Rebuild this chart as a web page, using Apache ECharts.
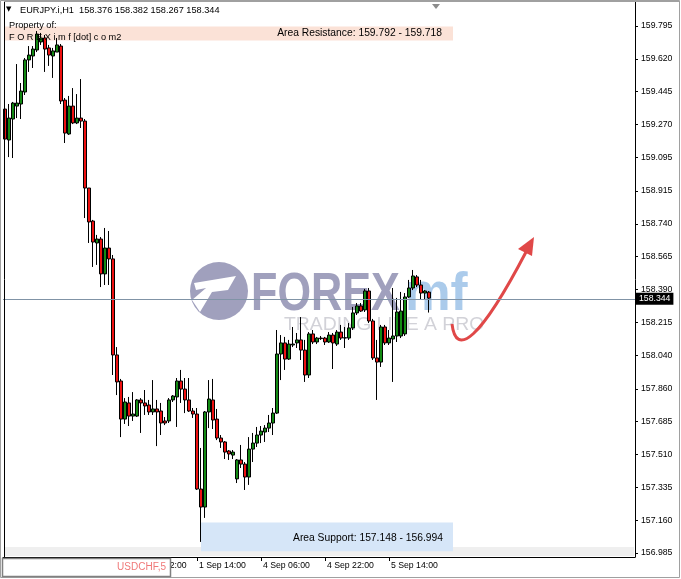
<!DOCTYPE html>
<html><head><meta charset="utf-8">
<script src="https://cdn.jsdelivr.net/npm/echarts@6/dist/echarts.min.js"></script>
<style>html,body{margin:0;padding:0;background:#fff}#c{width:681px;height:579px}</style>
</head><body><div id="c"></div>
<script>
// ---- data ----
const symbolTitle = 'EURJPY.i,H1';
const opens  = [159.352,159.187,159.299,159.368,159.379,159.443,159.614,159.635,159.667,159.710,
  159.731,159.678,159.635,159.656,159.688,159.400,159.219,159.368,159.278,159.304,
  159.288,158.931,158.755,158.638,158.659,158.473,158.611,158.553,158.041,157.902,
  157.699,157.785,157.715,157.715,157.801,157.785,157.774,157.737,157.753,157.742,
  157.689,157.689,157.801,157.817,157.902,157.859,157.801,157.742,157.726,157.326,
  157.230,157.737,157.801,157.699,157.598,157.577,157.529,157.507,157.380,157.481,
  157.459,157.390,157.539,157.571,157.614,157.630,157.651,157.678,157.731,158.046,
  158.105,158.019,158.094,158.105,158.121,158.067,157.934,158.153,158.110,158.131,
  158.131,158.110,158.147,158.099,158.163,158.131,158.131,158.185,158.265,158.302,
  158.281,158.382,158.222,158.025,158.003,158.190,158.105,158.126,158.142,158.142,
  158.153,158.350,158.398,158.457,158.414,158.371,158.376];
const highs  = [159.438,159.379,159.390,159.592,159.491,159.624,159.688,159.688,159.768,159.758,
  159.747,159.694,159.678,159.731,159.699,159.411,159.422,159.464,159.432,159.512,
  159.299,158.931,158.761,158.681,158.670,158.718,158.702,158.574,158.083,157.913,
  157.811,157.817,157.843,157.806,157.811,157.854,157.801,157.907,157.801,157.785,
  157.710,157.811,157.827,157.918,157.961,157.918,157.918,157.758,157.758,157.545,
  157.742,157.907,157.913,157.753,157.614,157.582,157.534,157.534,157.486,157.561,
  157.470,157.603,157.625,157.657,157.662,157.667,157.721,157.758,158.174,158.147,
  158.137,158.121,158.190,158.158,158.243,158.121,158.163,158.174,158.137,158.142,
  158.137,158.163,158.158,158.174,158.201,158.190,158.211,158.297,158.318,158.318,
  158.393,158.398,158.233,158.121,158.201,158.201,158.174,158.398,158.345,158.377,
  158.371,158.441,158.494,158.467,158.441,158.387,158.382];
const lows   = [159.190,159.096,159.091,159.304,159.299,159.427,159.550,159.571,159.656,159.694,
  159.550,159.582,159.518,159.656,159.379,159.171,159.214,159.272,159.272,159.251,
  158.771,158.638,158.510,158.521,158.403,158.414,158.414,157.934,157.827,157.603,
  157.673,157.662,157.689,157.710,157.625,157.721,157.721,157.721,157.555,157.614,
  157.667,157.678,157.790,157.657,157.785,157.731,157.737,157.705,157.321,157.044,
  157.172,157.651,157.646,157.587,157.545,157.486,157.481,157.486,157.358,157.438,
  157.321,157.348,157.470,157.550,157.571,157.577,157.630,157.614,157.726,157.907,
  157.961,158.014,158.083,158.078,158.014,157.897,157.918,158.099,158.099,158.121,
  158.094,158.105,157.966,158.089,158.121,158.078,158.121,158.174,158.254,158.270,
  158.270,158.211,158.014,157.801,157.977,158.094,158.094,157.897,158.110,158.131,
  158.142,158.345,158.387,158.403,158.334,158.334,158.267];
const closes = [159.192,159.304,159.384,159.384,159.448,159.614,159.640,159.672,159.752,159.731,
  159.672,159.640,159.662,159.694,159.395,159.224,159.368,159.278,159.304,159.288,
  158.931,158.750,158.643,158.659,158.473,158.611,158.553,158.041,157.897,157.699,
  157.790,157.715,157.726,157.801,157.785,157.769,157.737,157.753,157.737,157.678,
  157.678,157.801,157.822,157.902,157.859,157.801,157.742,157.726,157.326,157.230,
  157.737,157.806,157.694,157.598,157.577,157.523,157.513,157.523,157.481,157.459,
  157.390,157.539,157.571,157.614,157.635,157.651,157.678,157.731,158.046,158.105,
  158.019,158.099,158.099,158.121,158.067,157.934,158.153,158.110,158.131,158.128,
  158.110,158.147,158.105,158.163,158.131,158.133,158.185,158.265,158.302,158.275,
  158.382,158.222,158.025,158.003,158.190,158.105,158.131,158.142,158.270,158.275,
  158.350,158.398,158.462,158.414,158.371,158.382,158.344];
const yTickValues = [159.795,159.620,159.445,159.270,159.095,158.915,158.740,158.565,158.390,
  158.215,158.040,157.860,157.685,157.510,157.335,157.160,156.985];
const lastPrice = 158.344;
const resistanceZone = [159.792, 159.718];
const supportZone = [157.148, 156.994];
const resistanceStartBar = 0, supportStartBar = 49, zoneEndBar = 112;
const firstBarTime = Date.UTC(2023, 7, 30, 14);
const totalSlots = 158;

// ---- categories (H1 bars, weekends skipped) ----
const MON = ['Jan','Feb','Mar','Apr','May','Jun','Jul','Aug','Sep','Oct','Nov','Dec'];
const categories = [];
for (let t = firstBarTime; categories.length < totalSlots; t += 3600000) {
  const d = new Date(t), wd = d.getUTCDay();
  if (wd === 0 || wd === 6) continue;
  categories.push(d.getUTCDate() + ' ' + MON[d.getUTCMonth()] + ' ' + String(d.getUTCHours()).padStart(2,'0') + ':00');
}
const candleData = opens.map((o, i) => [o, closes[i], lows[i], highs[i]]);
const showLabel = (i) => i % 16 === 0 && i < opens.length;

const FONT = 'Liberation Sans';
const chart = echarts.init(document.getElementById('c'), null, {renderer: 'canvas'});
chart.setOption({
  animation: false,
  backgroundColor: '#ffffff',
  grid: {left: 3, right: 46, top: 2, bottom: 22},
  xAxis: {
    type: 'category', data: categories, boundaryGap: true,
    axisLine: {show: true, lineStyle: {color: '#000', width: 1}},
    axisTick: {show: true, length: 4, alignWithLabel: true, interval: (i) => showLabel(i), lineStyle: {color: '#000'}},
    axisLabel: {show: true, interval: (i) => showLabel(i), align: 'left', margin: 4, padding: [0,0,0,2],
      color: '#000', fontFamily: FONT, fontSize: 8.7},
    splitLine: {show: false}
  },
  yAxis: {
    type: 'value', position: 'right', min: 156.9636, max: 159.9229, scale: true,
    axisLine: {show: true, onZero: false, lineStyle: {color: '#000', width: 1}},
    axisTick: {show: true, length: 3, customValues: yTickValues, lineStyle: {color: '#000'}},
    axisLabel: {show: true, customValues: yTickValues, margin: 6, color: '#000', fontFamily: FONT, fontSize: 8.7,
      formatter: (v) => v.toFixed(3)},
    splitLine: {show: false}
  },
  graphic: [
    {type: 'rect', z: 0, silent: true, shape: {x: 0.5, y: 0.5, width: 679, height: 577},
      style: {fill: null, stroke: '#a0a0a0', lineWidth: 1}},
    {type: 'rect', z: 0, silent: true, shape: {x: 4, y: 547, width: 630, height: 9}, style: {fill: '#efefef'}},
    {type: 'circle', z: 1, silent: true, shape: {cx: 219, cy: 291, r: 29}, style: {fill: 'rgba(136,136,172,0.8)'}},
    {type: 'polygon', z: 1, silent: true, shape: {points: [[194,283],[236,276],[228,290],[212,292],[200,312],[192,300],[206,288],[196,290]]},
      style: {fill: '#ffffff'}},
    {type: 'text', z: 1, silent: true, x: 251, y: 268, style: {text: 'FOREX', fill: 'rgba(136,136,172,0.8)',
      font: 'bold 54px "Liberation Sans"'}, scaleX: 0.8},
    {type: 'text', z: 1, silent: true, x: 405, y: 268, style: {text: 'mf', fill: 'rgba(150,190,230,0.8)',
      font: 'bold 54px "Liberation Sans"'}, scaleX: 0.95},
    {type: 'text', z: 1, silent: true, x: 284, y: 315, style: {text: 'TRADING LIKE A PRO', fill: '#d2d2d8',
      font: '19px "Liberation Sans"'}, scaleX: 1.02},
    {type: 'bezierCurve', z: 5, silent: true, shape: {x1: 452, y1: 324, cpx1: 456, cpy1: 358, cpx2: 480, cpy2: 340, x2: 526, y2: 252},
      style: {stroke: '#e04848', lineWidth: 3, fill: null}},
    {type: 'polygon', z: 5, silent: true, shape: {points: [[534,237],[532,256],[518,249]]}, style: {fill: '#e04848'}},
    {type: 'text', z: 10, silent: true, x: 6, y: 6, style: {text: '▼', fill: '#000', font: '7px "DejaVu Sans"'}},
    {type: 'text', z: 10, silent: true, x: 20, y: 6, style: {text: symbolTitle + '  ' + [opens[106], highs[106], lows[106], closes[106]].map(v => v.toFixed(3)).join(' '),
      fill: '#000', font: '9.2px "Liberation Sans"'}},
    {type: 'text', z: 10, silent: true, x: 9, y: 21, style: {text: 'Property of:', fill: '#000', font: '9.2px "Liberation Sans"'}},
    {type: 'text', z: 10, silent: true, x: 9, y: 33, style: {text: 'F O R E X i m f [dot] c o m2', fill: '#000', font: '9.2px "Liberation Sans"'}},
    {type: 'polygon', z: 10, silent: true, shape: {points: [[432,4],[440,4],[436,9]]}, style: {fill: '#8c8c8c'}},
    {type: 'line', z: 10, silent: true, shape: {x1: 4.5, y1: 2, x2: 4.5, y2: 557}, style: {stroke: '#000', lineWidth: 1}},
    {type: 'line', z: 10, silent: true, shape: {x1: 4, y1: 1.5, x2: 680, y2: 1.5}, style: {stroke: '#a0a0a0', lineWidth: 1}},
    {type: 'rect', z: 100, silent: true, shape: {x: 2.5, y: 558.5, width: 168, height: 18},
      style: {fill: '#fff', stroke: '#808080', lineWidth: 1.5}},
    {type: 'text', z: 101, silent: true, x: 166, y: 562, style: {text: 'USDCHF,5', fill: '#f07878', align: 'right',
      font: '10px "Liberation Sans"'}}
  ],
  series: [{
    type: 'candlestick', data: candleData, barWidth: 3, z: 3,
    itemStyle: {color: '#138a13', color0: '#ee1111', borderColor: '#000', borderColor0: '#000', borderColorDoji: '#000', borderWidth: 1},
    markLine: {
      silent: true, symbol: ['none','none'], animation: false,
      lineStyle: {color: '#8093a6', width: 1, type: 'solid'},
      label: {show: true, position: 'end', distance: 1, formatter: lastPrice.toFixed(3), color: '#fff', backgroundColor: '#000',
        padding: [2,3,1,3], fontFamily: FONT, fontSize: 8.7},
      data: [{yAxis: lastPrice}]
    },
    markArea: {
      silent: true,
      data: [
        [{xAxis: resistanceStartBar, yAxis: resistanceZone[0], itemStyle: {color: '#fbe2d7'},
          label: {show: true, position: 'insideRight', distance: 11, formatter: 'Area Resistance: ' + resistanceZone[0].toFixed(3) + ' - ' + resistanceZone[1].toFixed(3),
            color: '#000', fontFamily: FONT, fontSize: 10.3}},
         {xAxis: zoneEndBar, yAxis: resistanceZone[1]}],
        [{xAxis: supportStartBar, yAxis: supportZone[0], itemStyle: {color: '#d6e6f8'},
          label: {show: true, position: 'insideRight', distance: 10, offset: [0, 1], formatter: 'Area Support: ' + supportZone[0].toFixed(3) + ' - ' + supportZone[1].toFixed(3),
            color: '#000', fontFamily: FONT, fontSize: 10.3}},
         {xAxis: zoneEndBar, yAxis: supportZone[1]}]
      ]
    }
  }]
});
</script></body></html>
